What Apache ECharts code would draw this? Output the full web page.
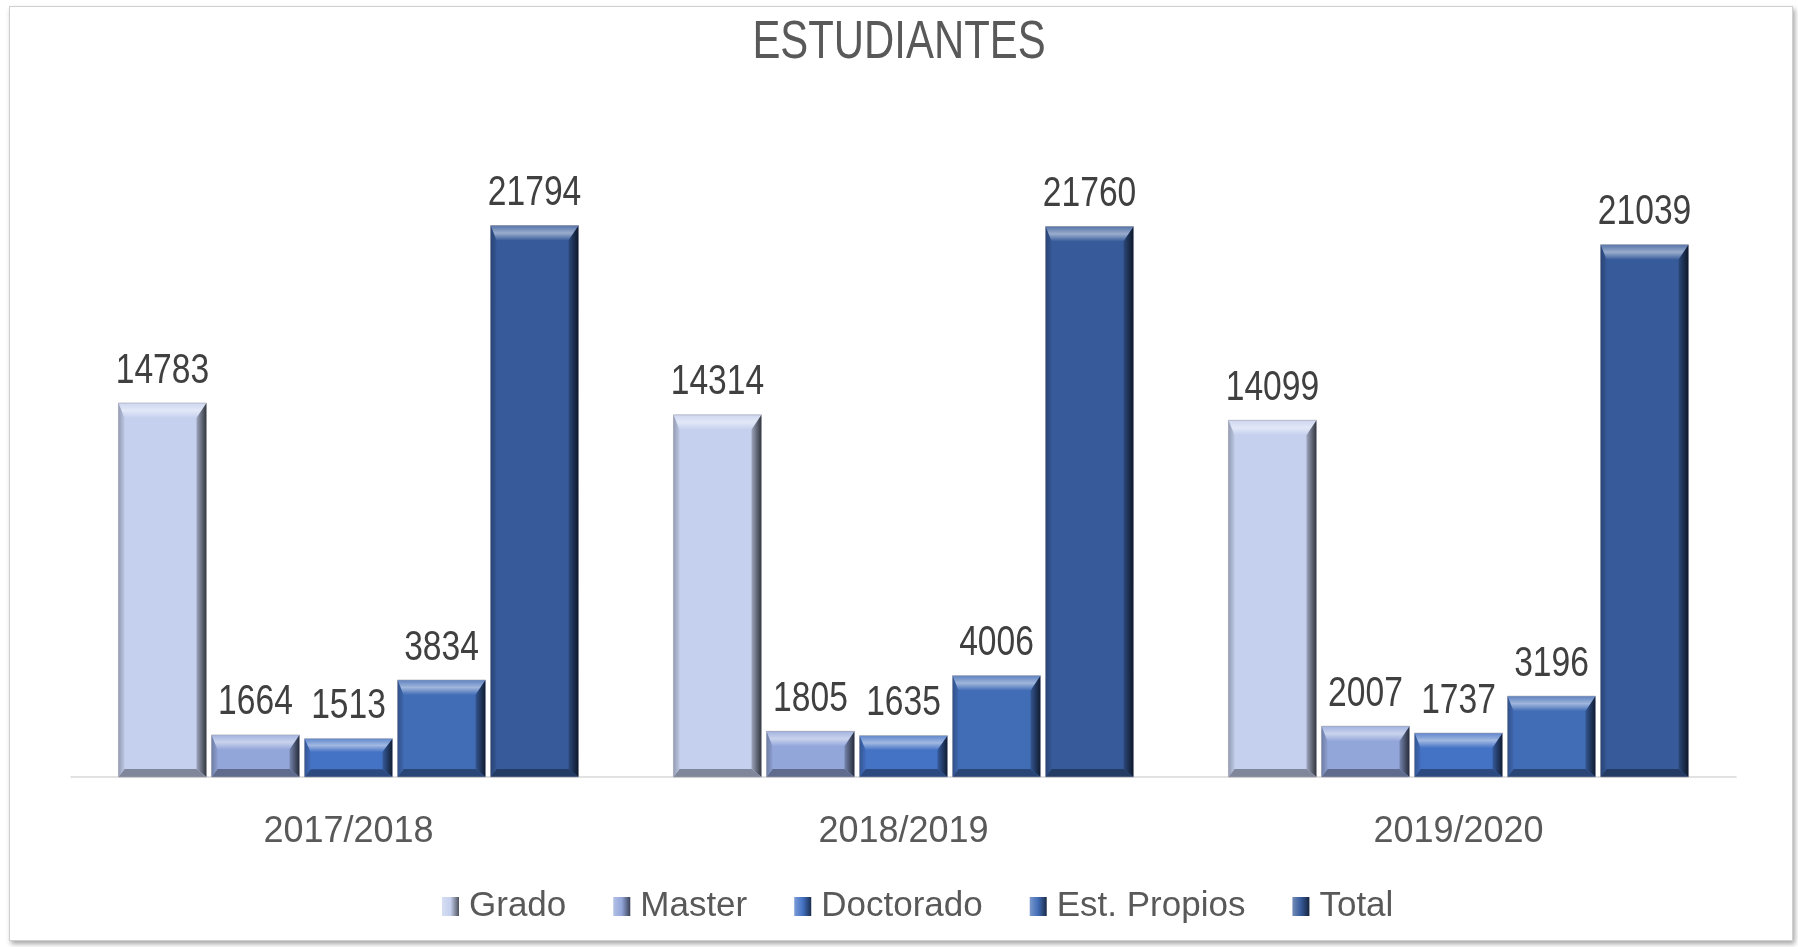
<!DOCTYPE html>
<html>
<head>
<meta charset="utf-8">
<script src="https://cdn.jsdelivr.net/npm/echarts@6/dist/echarts.min.js"></script>
<style>
  html, body { margin: 0; padding: 0; background: #fff; }
  #frame {
    position: absolute; left: 9px; top: 6px; width: 1782px; height: 933px;
    border: 1px solid #d0d0d0; box-shadow: 2px 3px 5px rgba(0,0,0,0.35); background: #fff;
  }
  #main { position: absolute; left: 0; top: 0; width: 1798px; height: 947px; }
</style>
</head>
<body>
<div id="frame"></div>
<div id="main"></div>
<script>
// data
const years = ["2017/2018", "2018/2019", "2019/2020"];
const seriesNames = ["Grado", "Master", "Doctorado", "Est. Propios", "Total"];
const grado = [14783, 14314, 14099];
const master = [1664, 1805, 2007];
const doctorado = [1513, 1635, 1737];
const estPropios = [3834, 4006, 3196];
const total = [21794, 21760, 21039];
const colors = ["#C5D0EE", "#93A6DA", "#4472C4", "#416CB6", "#375B9A"];

const FONT = "'Liberation Sans', Arial, sans-serif";

function mix(hex, target, t) {
  const a = parseInt(hex.slice(1), 16);
  const r = (a >> 16) & 255, g = (a >> 8) & 255, b = a & 255;
  const tv = target === "w" ? 255 : 0;
  const f = (v) => Math.round(v + (tv - v) * t);
  return "rgb(" + f(r) + "," + f(g) + "," + f(b) + ")";
}

// bevelled bar, drawn from the category/value coordinates of the axes
function bevelBar(idx) {
  const base = colors[idx];
  return function (params, api) {
    const cat = api.value(0);
    const val = api.value(1);
    const p0 = api.coord([cat, 0]);
    const p1 = api.coord([cat, val]);
    const band = api.size([1, 0])[0];
    const w = band * 0.1586;
    const step = band * 0.1676;
    const cx = p0[0] + (idx - 2) * step;
    const x0 = cx - w / 2, x1 = cx + w / 2;
    const y0 = p1[1], y1 = p0[1];
    const h = y1 - y0;
    const bt = Math.min(15, h * 0.35), bb = Math.min(8, h * 0.2), br = 10, bl = 6;
    return {
      type: "group",
      children: [
        { type: "rect", shape: { x: x0, y: y0, width: w, height: h }, style: { fill: base } },
        { type: "polygon", shape: { points: [[x0, y0], [x1, y0], [x1 - br, y0 + bt], [x0 + bl, y0 + bt]] },
          style: { fill: { type: "linear", x: 0, y: 0, x2: 0, y2: 1, colorStops: [
            { offset: 0, color: mix(base, "w", 0.15) }, { offset: 0.5, color: mix(base, "w", 0.5) }, { offset: 1, color: base }] } } },
        { type: "polygon", shape: { points: [[x1, y0], [x1, y1], [x1 - br, y1 - bb], [x1 - br, y0 + bt]] },
          style: { fill: { type: "linear", x: 0, y: 0, x2: 1, y2: 0, colorStops: [
            { offset: 0, color: mix(base, "b", 0.2) }, { offset: 1, color: mix(base, "b", 0.75) }] } } },
        { type: "polygon", shape: { points: [[x0, y1], [x1, y1], [x1 - br, y1 - bb], [x0 + bl, y1 - bb]] },
          style: { fill: mix(base, "b", 0.35) } },
        { type: "polygon", shape: { points: [[x0, y0], [x0 + bl, y0 + bt], [x0 + bl, y1 - bb], [x0, y1]] },
          style: { fill: { type: "linear", x: 0, y: 0, x2: 1, y2: 0, colorStops: [
            { offset: 0, color: mix(base, "b", 0.25) }, { offset: 1, color: mix(base, "b", 0.05) }] } } },
        { type: "rect", shape: { x: x0, y: y0, width: w, height: h }, style: { fill: "none", stroke: "rgba(160,160,170,0.6)", lineWidth: 1 } },
        { type: "text", x: cx, y: y0 - 11, scaleX: 0.8,
          style: { text: String(val), fill: "#404040", font: "42px " + FONT, align: "center", verticalAlign: "bottom" } }
      ]
    };
  };
}

const allData = [grado, master, doctorado, estPropios, total];

const myChart = echarts.init(document.getElementById("main"));

const option = {
  backgroundColor: "transparent",
  animation: false,
  graphic: [{
    type: "text",
    x: 899,
    y: 17,
    scaleX: 0.79,
    style: { text: "ESTUDIANTES", font: "53px " + FONT, fill: "#595959", align: "center", verticalAlign: "top" }
  }],
  legend: {
    top: 884,
    left: 437,
    itemGap: 47,
    itemWidth: 17,
    itemHeight: 19,
    icon: "rect",
    textStyle: { fontFamily: FONT, fontSize: 35, color: "#595959", padding: [0, 0, 0, 5] },
    data: seriesNames.map((n, i) => ({
      name: n,
      itemStyle: { color: { type: "linear", x: 0, y: 0, x2: 1, y2: 0, colorStops: [
        { offset: 0, color: mix(colors[i], "w", 0.3) }, { offset: 0.5, color: colors[i] }, { offset: 1, color: mix(colors[i], "b", 0.6) }] } }
    }))
  },
  grid: { left: 71, right: 62, top: 144.5, bottom: 170 },
  xAxis: {
    type: "category",
    data: years,
    axisLine: { lineStyle: { color: "#d9d9d9", width: 1.5 } },
    axisTick: { show: false },
    axisLabel: { fontFamily: FONT, fontSize: 36, color: "#595959", margin: 37 }
  },
  yAxis: {
    type: "value",
    min: 0,
    max: 25000,
    show: false,
    splitLine: { show: false }
  },
  series: seriesNames.map((n, i) => ({
    name: n,
    type: "custom",
    renderItem: bevelBar(i),
    itemStyle: { color: colors[i] },
    encode: { x: 0, y: 1 },
    data: allData[i].map((v, k) => [k, v])
  }))
};

myChart.setOption(option);
</script>
</body>
</html>
